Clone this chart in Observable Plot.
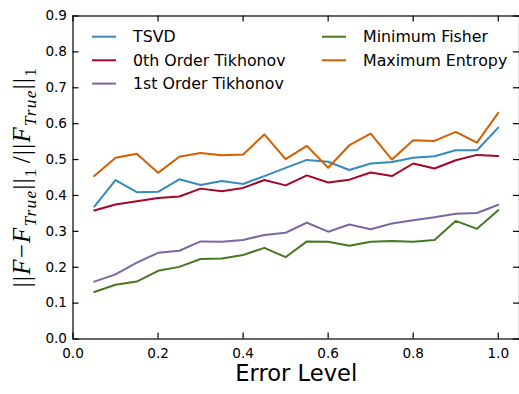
<!DOCTYPE html>
<html>
<head>
<meta charset="utf-8">
<script src="https://cdn.jsdelivr.net/npm/d3@7"></script>
<script src="https://cdn.jsdelivr.net/npm/@observablehq/plot@0.6"></script>
<style>
  body { margin: 0; background: #fff; }
  svg { display: block; }
</style>
</head>
<body>
<div id="chart"></div>
<script>
// Relative L1 reconstruction error against the noise level, per inversion method
const errorLevel = [0.05, 0.10, 0.15, 0.20, 0.25, 0.30, 0.35, 0.40, 0.45, 0.50,
                    0.55, 0.60, 0.65, 0.70, 0.75, 0.80, 0.85, 0.90, 0.95, 1.00];

const tsvd = [0.369, 0.443, 0.409, 0.410, 0.445, 0.429, 0.440, 0.432, 0.454, 0.477,
              0.499, 0.494, 0.471, 0.489, 0.493, 0.505, 0.509, 0.526, 0.526, 0.589];
const tikhonov0 = [0.358, 0.375, 0.384, 0.393, 0.397, 0.419, 0.412, 0.421, 0.443, 0.428,
                   0.456, 0.436, 0.444, 0.464, 0.454, 0.489, 0.475, 0.498, 0.513, 0.510];
const tikhonov1 = [0.160, 0.180, 0.213, 0.240, 0.246, 0.272, 0.271, 0.276, 0.290, 0.296,
                   0.324, 0.299, 0.319, 0.306, 0.322, 0.331, 0.339, 0.349, 0.351, 0.374];
const minFisher = [0.131, 0.151, 0.160, 0.190, 0.201, 0.223, 0.224, 0.234, 0.254, 0.228,
                   0.272, 0.271, 0.260, 0.271, 0.273, 0.271, 0.276, 0.329, 0.307, 0.359];
const maxEntropy = [0.454, 0.505, 0.516, 0.463, 0.508, 0.518, 0.512, 0.514, 0.570, 0.501,
                    0.538, 0.477, 0.540, 0.572, 0.500, 0.554, 0.552, 0.577, 0.547, 0.630];

const methodNames = ["TSVD", "0th Order Tikhonov", "1st Order Tikhonov", "Minimum Fisher", "Maximum Entropy"];
const methodColors = ["#348ABD", "#A60628", "#7A68A6", "#467821", "#D55E00"];
const methodValues = [tsvd, tikhonov0, tikhonov1, minFisher, maxEntropy];

const xTicks = [0.0, 0.2, 0.4, 0.6, 0.8, 1.0];
const yTicks = [0.0, 0.1, 0.2, 0.3, 0.4, 0.5, 0.6, 0.7, 0.8, 0.9];

const rows = methodNames.flatMap((name, k) =>
  methodValues[k].map((v, i) => ({method: name, level: errorLevel[i], value: v})));

const fmt = d3.format(".1f");

// Frame geometry
const W = 519, H = 394;
const mLeft = 72.5, mRight = 0, mTop = 15.5, mBottom = 55.5;
const innerW = W - mLeft - mRight, innerH = H - mTop - mBottom;
const tickLen = 6;

const chart = Plot.plot({
  width: W,
  height: H,
  marginLeft: mLeft,
  marginRight: mRight,
  marginTop: mTop,
  marginBottom: mBottom,
  style: {fontFamily: "DejaVu Sans", fontSize: "13.6px", color: "black", background: "white"},
  x: {domain: [0, 1.05], label: null},
  y: {domain: [0, 0.9], label: null},
  color: {domain: methodNames, range: methodColors},
  marks: [
    Plot.line(rows, {x: "level", y: "value", z: "method", stroke: "method", strokeWidth: 2}),
    Plot.frame({stroke: "black", strokeWidth: 1.2}),
    // inward ticks on all four sides
    Plot.ruleX(xTicks, {x: d => d, insetTop: innerH - tickLen, stroke: "black", strokeWidth: 1.2}),
    Plot.ruleX(xTicks, {x: d => d, insetBottom: innerH - tickLen, stroke: "black", strokeWidth: 1.2}),
    Plot.ruleY(yTicks, {y: d => d, insetRight: innerW - tickLen, stroke: "black", strokeWidth: 1.2}),
    Plot.ruleY(yTicks, {y: d => d, insetLeft: innerW - tickLen, stroke: "black", strokeWidth: 1.2}),
    Plot.axisX(xTicks, {tickSize: 0, tickPadding: 9, tickFormat: fmt, label: null, fill: "black"}),
    Plot.axisY(yTicks, {tickSize: 0, tickPadding: 6, tickFormat: fmt, label: null, fill: "black"}),
    Plot.text(["Error Level"], {text: d => d, frameAnchor: "bottom", dy: 42, fontSize: 22.6, fill: "black"})
  ]
});

document.getElementById("chart").appendChild(chart);

const svg = d3.select(chart);

// Y-axis label: ||F - F_True||_1 / ||F_True||_1
const yLabel = svg.append("text")
  .attr("transform", `translate(30,${mTop + innerH / 2}) rotate(-90)`)
  .attr("text-anchor", "middle")
  .attr("font-family", "'Liberation Serif', serif")
  .attr("font-size", 25)
  .attr("letter-spacing", 1.2)
  .attr("fill", "black");
const parts = [
  ["||", false, 0], ["F", true, 0], ["\u2212", false, 0], ["F", true, 0], ["True", true, 1],
  ["||", false, 0], ["1", false, 1], ["/", false, 0], ["||", false, 0], ["F", true, 0],
  ["True", true, 1], ["||", false, 0], ["1", false, 1]
];
let shifted = 0;
for (const [s, italic, sub] of parts) {
  const ts = yLabel.append("tspan").text(s);
  if (italic) ts.attr("font-style", "italic");
  if (sub) ts.attr("font-size", 17.5);
  const want = sub ? 6 : 0;
  if (want !== shifted) { ts.attr("dy", want - shifted); shifted = want; }
  if (s === "/") ts.attr("dx", 4);
}

// Legend in two columns inside the top of the frame
const legend = svg.append("g")
  .attr("font-family", "DejaVu Sans")
  .attr("font-size", 15.8)
  .attr("text-anchor", "start");
const legendPos = [[92, 36.7], [92, 60.3], [92, 83.6], [322, 36.7], [322, 60.3]];
methodNames.forEach((name, k) => {
  const [lx, ly] = legendPos[k];
  legend.append("line").attr("x1", lx).attr("x2", lx + 24).attr("y1", ly).attr("y2", ly)
    .attr("stroke", methodColors[k]).attr("stroke-width", 2);
  legend.append("text").attr("x", lx + 41).attr("y", ly).attr("dy", "0.35em")
    .attr("fill", "black").text(name);
});
</script>
</body>
</html>
